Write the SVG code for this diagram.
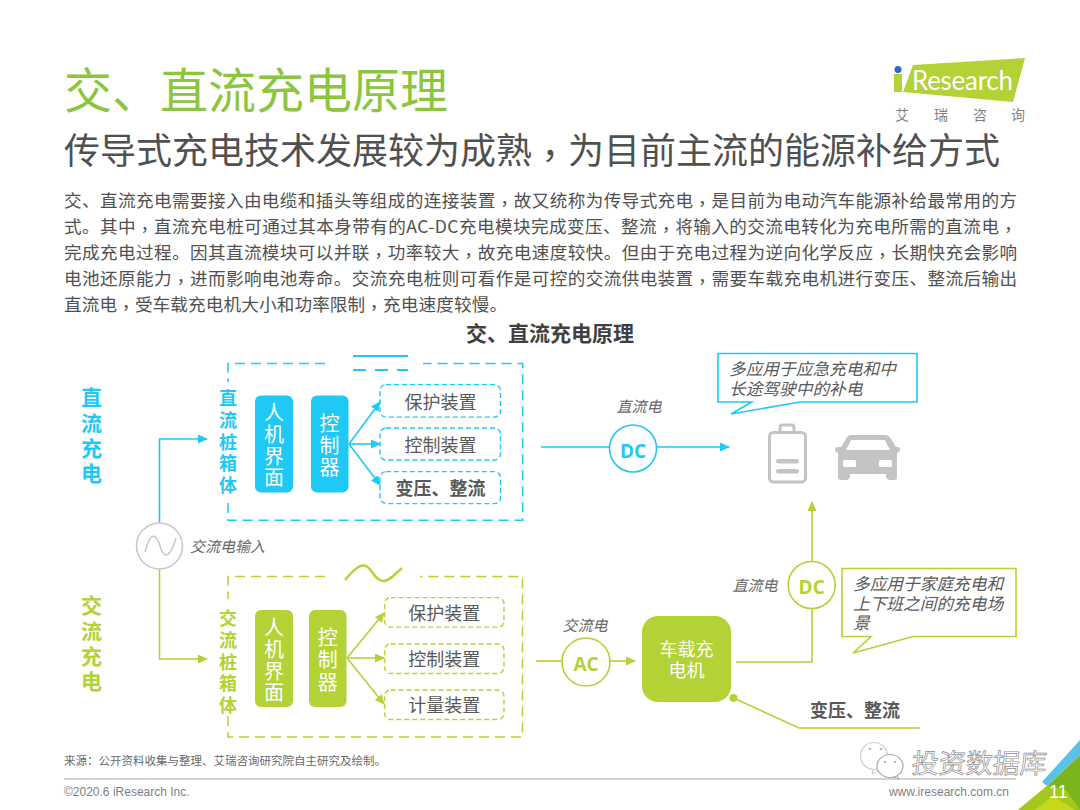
<svg xmlns="http://www.w3.org/2000/svg" width="1080" height="810" viewBox="0 0 1080 810">
<style>
text{font-family:"Noto Sans CJK SC","Liberation Sans",sans-serif;fill:#595959}
.c{text-anchor:middle}
.b{font-weight:700}
.p{font-family:"Noto Sans CJK TC","Noto Sans CJK SC",sans-serif}
.body{font-size:17.6px;fill:#505050}
.i{font-style:italic;font-size:15px;fill:#6a6a6a}
.note{font-style:italic;font-size:16.7px;fill:#595959}
.w{fill:#fff;font-size:20px;text-anchor:middle}
.blue{fill:#1fc8f5}.green{fill:#b2d235}
.sb{stroke:#1fc8f5;fill:none;stroke-width:1.6}
.sg{stroke:#b2d235;fill:none;stroke-width:1.6}
.db{stroke:#1fc8f5;fill:none;stroke-width:1.4;stroke-dasharray:5 3}
.dg{stroke:#b2d235;fill:none;stroke-width:1.4;stroke-dasharray:5 3}
.lb{stroke:#1fc8f5;fill:none;stroke-width:1.5;stroke-dasharray:10 6}
.lg{stroke:#b2d235;fill:none;stroke-width:1.5;stroke-dasharray:10 6}
.lab{font-size:18px;text-anchor:middle;fill:#595959}
.ic{fill:#c4c4c4}
</style>
<defs>
<marker id="ab" markerWidth="10" markerHeight="9" refX="9" refY="4.500" orient="auto" markerUnits="userSpaceOnUse"><path d="M0 0L10 4.500L0 9Z" fill="#1fc8f5"/></marker>
<marker id="ag" markerWidth="10" markerHeight="9" refX="9" refY="4.500" orient="auto" markerUnits="userSpaceOnUse"><path d="M0 0L10 4.500L0 9Z" fill="#b2d235"/></marker>
</defs>
<rect width="1080" height="810" fill="#fff"/>

<g id="header">
<text x="64" y="108" font-size="48" style="fill:#8cc63f">交、直流充电原理</text>
<text x="64" y="164" font-size="36" style="fill:#505050">传导式充电技术发展较为成熟<tspan class="p" dy="5">，</tspan><tspan dy="-5">为目前主流的能源补给方式</tspan></text>
<text class="body" x="64" y="207" textLength="953">交、直流充电需要接入由电缆和插头等组成的连接装置<tspan class="p" dy="3">，</tspan><tspan dy="-3">故又统称为传导式充电</tspan><tspan class="p" dy="3">，</tspan><tspan dy="-3">是目前为电动汽车能源补给最常用的方</tspan></text>
<text class="body" x="64" y="233" textLength="953">式。其中<tspan class="p" dy="3">，</tspan><tspan dy="-3">直流充电桩可通过其本身带有的AC-DC充电模块完成变压、整流</tspan><tspan class="p" dy="3">，</tspan><tspan dy="-3">将输入的交流电转化为充电所需的直流电</tspan><tspan class="p" dy="3">，</tspan></text>
<text class="body" x="64" y="259" textLength="953">完成充电过程。因其直流模块可以并联<tspan class="p" dy="3">，</tspan><tspan dy="-3">功率较大</tspan><tspan class="p" dy="3">，</tspan><tspan dy="-3">故充电速度较快。但由于充电过程为逆向化学反应</tspan><tspan class="p" dy="3">，</tspan><tspan dy="-3">长期快充会影响</tspan></text>
<text class="body" x="64" y="285" textLength="953">电池还原能力<tspan class="p" dy="3">，</tspan><tspan dy="-3">进而影响电池寿命。交流充电桩则可看作是可控的交流供电装置</tspan><tspan class="p" dy="3">，</tspan><tspan dy="-3">需要车载充电机进行变压、整流后输出</tspan></text>
<text class="body" x="64" y="311" textLength="443">直流电<tspan class="p" dy="3">，</tspan><tspan dy="-3">受车载充电机大小和功率限制</tspan><tspan class="p" dy="3">，</tspan><tspan dy="-3">充电速度较慢。</tspan></text>
<text class="c b" x="550" y="341" font-size="21" style="fill:#404040">交、直流充电原理</text>
</g>

<g id="logo">
<polygon points="913,65 1025,58 1013,102 903,92" fill="#b2d235"/>
<rect x="894" y="74" width="8" height="18" fill="#b2d235"/>
<circle cx="898" cy="69.500" r="3.500" fill="#2a6ebb"/>
<text x="912" y="90" font-size="26" textLength="101" style="font-family:'Lato','Liberation Sans',sans-serif;fill:#fff">Research</text>
<text x="895" y="120" font-size="14" style="fill:#7f7f7f">艾</text>
<text x="934" y="120" font-size="14" style="fill:#7f7f7f">瑞</text>
<text x="973" y="120" font-size="14" style="fill:#7f7f7f">咨</text>
<text x="1011" y="120" font-size="14" style="fill:#7f7f7f">询</text>
</g>

<g id="connectors">
<path class="sb" d="M159.500 523V439H207" marker-end="url(#ab)"/>
<path class="sg" d="M159.500 569V659H207" marker-end="url(#ag)"/>
<path class="sb" d="M349 444L380 402" marker-end="url(#ab)"/>
<path class="sb" d="M349 444H380" marker-end="url(#ab)"/>
<path class="sb" d="M349 444L380 485" marker-end="url(#ab)"/>
<path class="sg" d="M347 658L384 613" marker-end="url(#ag)"/>
<path class="sg" d="M347 658H384" marker-end="url(#ag)"/>
<path class="sg" d="M347 658L384 704" marker-end="url(#ag)"/>
<path class="sb" d="M541 447H609"/>
<path class="sb" d="M657 447H729" marker-end="url(#ab)"/>
<path class="sg" d="M536 661H561.500"/>
<path class="sg" d="M610 661H635" marker-end="url(#ag)"/>
<path class="sg" d="M736 662H812V608"/>
<path class="sg" d="M812 562V502" marker-end="url(#ag)"/>
<path class="sg" d="M733.500 698L799 728H920"/>
<circle cx="733.500" cy="698" r="4" class="green"/>
</g>

<g id="source">
<circle cx="159.500" cy="546" r="23" fill="#fff" stroke="#c8c8c8" stroke-width="1.600"/>
<path d="M145 552C150 532 156 532 160 546C164 560 170 558 176 538" fill="none" stroke="#c8c8c8" stroke-width="1.500"/>
<text class="i" x="190" y="552">交流电输入</text>
</g>

<g id="label-dc">
<text class="b" font-size="21" style="fill:#1fc8f5" text-anchor="middle"><tspan x="91.500" y="405">直</tspan><tspan x="91.500" y="431">流</tspan><tspan x="91.500" y="456">充</tspan><tspan x="91.500" y="481">电</tspan></text>
</g>
<g id="label-ac">
<text class="b" font-size="21" style="fill:#b2d235" text-anchor="middle"><tspan x="91.500" y="613">交</tspan><tspan x="91.500" y="639">流</tspan><tspan x="91.500" y="664">充</tspan><tspan x="91.500" y="689">电</tspan></text>
</g>

<g id="dc-box">
<path class="lb" d="M325 363.500H228V382M228 503V520.300H522.700V363.500H423"/>
<path d="M353 356H408" stroke="#1fc8f5" stroke-width="2" fill="none"/>
<path d="M353 370H408" stroke="#1fc8f5" stroke-width="2" stroke-dasharray="13 9" fill="none"/>
<text class="b" font-size="18" style="fill:#1fc8f5" text-anchor="middle"><tspan x="228" y="405">直</tspan><tspan x="228" y="427">流</tspan><tspan x="228" y="449">桩</tspan><tspan x="228" y="470">箱</tspan><tspan x="228" y="492">体</tspan></text>
</g>
<g id="dc-hmi">
<rect x="255" y="395.600" width="38" height="97" rx="6" class="blue"/>
<text class="w"><tspan x="274" y="420">人</tspan><tspan x="274" y="442">机</tspan><tspan x="274" y="464">界</tspan><tspan x="274" y="485">面</tspan></text>
</g>
<g id="dc-ctrl">
<rect x="311" y="395.600" width="37.500" height="97" rx="6" class="blue"/>
<text class="w"><tspan x="329.500" y="431">控</tspan><tspan x="329.500" y="453">制</tspan><tspan x="329.500" y="475">器</tspan></text>
</g>
<g id="dc-protect"><rect x="380" y="384.600" width="120.500" height="32.500" rx="6" class="db"/><text class="lab" x="440.500" y="409">保护装置</text></g>
<g id="dc-control"><rect x="380" y="428" width="120.500" height="32" rx="6" class="db"/><text class="lab" x="440.500" y="452">控制装置</text></g>
<g id="dc-convert"><rect x="380" y="471.600" width="120.500" height="32" rx="6" class="db"/><text class="lab b" x="440.500" y="495">变压、整流</text></g>

<g id="ac-box">
<path class="lg" d="M325 576.600H228V599M228 716V737H522.500V576.600H420"/>
<path d="M345 580C352 572 358 565 364 565.500C372 566 374 581 383 581C390 581 396 573 402 568" stroke="#b2d235" stroke-width="2.400" fill="none"/>
<text class="b" font-size="18" style="fill:#b2d235" text-anchor="middle"><tspan x="228" y="625">交</tspan><tspan x="228" y="647">流</tspan><tspan x="228" y="669">桩</tspan><tspan x="228" y="690">箱</tspan><tspan x="228" y="712">体</tspan></text>
</g>
<g id="ac-hmi">
<rect x="255" y="610" width="38" height="97" rx="6" class="green"/>
<text class="w"><tspan x="274" y="635">人</tspan><tspan x="274" y="657">机</tspan><tspan x="274" y="679">界</tspan><tspan x="274" y="700">面</tspan></text>
</g>
<g id="ac-ctrl">
<rect x="309" y="610" width="37.500" height="97" rx="6" class="green"/>
<text class="w"><tspan x="327.800" y="645">控</tspan><tspan x="327.800" y="667">制</tspan><tspan x="327.800" y="690">器</tspan></text>
</g>
<g id="ac-protect"><rect x="384.600" y="597.600" width="119.400" height="29.500" rx="6" class="dg"/><text class="lab" x="444.300" y="620">保护装置</text></g>
<g id="ac-control"><rect x="384.600" y="644" width="119.400" height="29.500" rx="6" class="dg"/><text class="lab" x="444.300" y="666">控制装置</text></g>
<g id="ac-meter"><rect x="384.600" y="690" width="119.400" height="29.500" rx="6" class="dg"/><text class="lab" x="444.300" y="712">计量装置</text></g>

<g id="dc-circle">
<circle cx="633" cy="448.500" r="23.500" fill="#fff" stroke="#1fc8f5" stroke-width="1.600"/>
<text class="c b" x="633" y="458" font-size="19" style="font-family:'Open Sans',sans-serif;fill:#1fc8f5">DC</text>
<text class="i c" x="639" y="412">直流电</text>
</g>
<g id="dc-note">
<path d="M718 353.500H917V402H800L731 414L751.700 402H718Z" fill="#fff" stroke="#1fc8f5" stroke-width="1.600"/>
<text class="note" x="729" y="374.500">多应用于应急充电和中</text>
<text class="note" x="729" y="395">长途驾驶中的补电</text>
</g>
<g id="battery">
<path d="M780 431V427Q780 425 782 425H792Q794 425 794 427V431" fill="none" stroke="#c4c4c4" stroke-width="3"/>
<rect x="769.500" y="432.500" width="36" height="49.500" rx="4" fill="none" stroke="#c4c4c4" stroke-width="3"/>
<rect x="776" y="459" width="23" height="4.500" rx="2" class="ic"/>
<rect x="776" y="469" width="23" height="4.500" rx="2" class="ic"/>
</g>
<g id="car">
<path d="M851 435H885Q889 435 891 439L896 447H899Q900 447 900 450Q900 452 897 453V477Q897 480 894 480H889Q887 480 886 477V474H850V477Q849 480 847 480H841Q838 480 838 477V453Q835 452 835 450Q835 447 838 447H841L846 439Q848 435 851 435Z" class="ic"/>
<path d="M851 440H885L890 450H846Z" fill="#fff"/>
<rect x="843" y="460" width="13" height="7" rx="1.500" fill="#fff"/>
<rect x="879" y="460" width="13" height="7" rx="1.500" fill="#fff"/>
</g>

<g id="ac-circle">
<circle cx="586" cy="662" r="24" fill="#fff" stroke="#b2d235" stroke-width="1.600"/>
<text class="c b" x="586" y="671" font-size="19" style="font-family:'Open Sans',sans-serif;fill:#b2d235">AC</text>
<text class="i c" x="585" y="631">交流电</text>
</g>
<g id="charger">
<rect x="642" y="616" width="89" height="86" rx="16" class="green"/>
<text class="c" font-size="18" style="fill:#fff"><tspan x="686.500" y="656">车载充</tspan><tspan x="686.500" y="677">电机</tspan></text>
</g>
<g id="dc-circle-2">
<circle cx="811.700" cy="585" r="23.500" fill="#fff" stroke="#b2d235" stroke-width="1.600"/>
<text class="c b" x="811.700" y="594" font-size="19" style="font-family:'Open Sans',sans-serif;fill:#b2d235">DC</text>
<text class="i c" x="755" y="591">直流电</text>
</g>
<g id="ac-note">
<path d="M842 568.500H1016V636.500H913L853 653L871 636.500H842Z" fill="#fff" stroke="#b2d235" stroke-width="1.600"/>
<text class="note" x="853" y="590">多应用于家庭充电和</text>
<text class="note" x="853" y="610">上下班之间的充电场</text>
<text class="note" x="853" y="629">景</text>
</g>
<text class="c b" x="855" y="717" font-size="18" style="fill:#595959">变压、整流</text>

<g id="footer">
<text x="64" y="765" font-size="11.500" style="fill:#6a6a6a">来源：公开资料收集与整理、艾瑞咨询研究院自主研究及绘制。</text>
<path d="M64 779H1016" stroke="#a6a6a6" stroke-width="1" fill="none"/>
<text x="64" y="796" font-size="12" style="font-family:'Liberation Sans',sans-serif;fill:#7f7f7f">©2020.6 iResearch Inc.</text>
<text x="1009" y="796" font-size="12" text-anchor="end" style="font-family:'Liberation Sans',sans-serif;fill:#7f7f7f">www.iresearch.com.cn</text>
<polygon points="1018,810 1047,786 1080,755 1080,810" fill="#7ab51d"/>
<polygon points="1018,810 1047,786 1066,790 1080,810" fill="#a5c81d"/>
<polygon points="1035,810 1053,796 1075,810" fill="#c6d81a"/>
<polygon points="1042,782 1080,740 1080,755 1047,786" fill="#5bc2e7"/>
<text x="1049" y="798" font-size="18" style="font-family:'Liberation Sans',sans-serif;fill:#fff">11</text>
</g>

<g id="watermark">
<path d="M874 767L872 774L880 769Z" fill="#fff" stroke="#c8c8c8" stroke-width="1"/>
<ellipse cx="874" cy="756" rx="13.500" ry="13.500" fill="#fff" stroke="#cfcfcf" stroke-width="1.200"/>
<path d="M896 774L899 779L890 776Z" fill="#fff" stroke="#a8a8a8" stroke-width="1"/>
<ellipse cx="890" cy="766" rx="13" ry="11.500" fill="#fff" stroke="#a8a8a8" stroke-width="1.200"/>
<circle cx="870" cy="749" r="1.300" fill="#bbb"/><circle cx="881" cy="749" r="1.300" fill="#bbb"/>
<circle cx="885" cy="762" r="1.300" fill="#bbb"/><circle cx="895" cy="762" r="1.300" fill="#bbb"/>
<text x="0" y="0" font-size="27" transform="translate(911 773) skewX(-5)" style="fill:#fff;stroke:#8c8c8c;stroke-width:.7">投资数据库</text>
</g>
</svg>
